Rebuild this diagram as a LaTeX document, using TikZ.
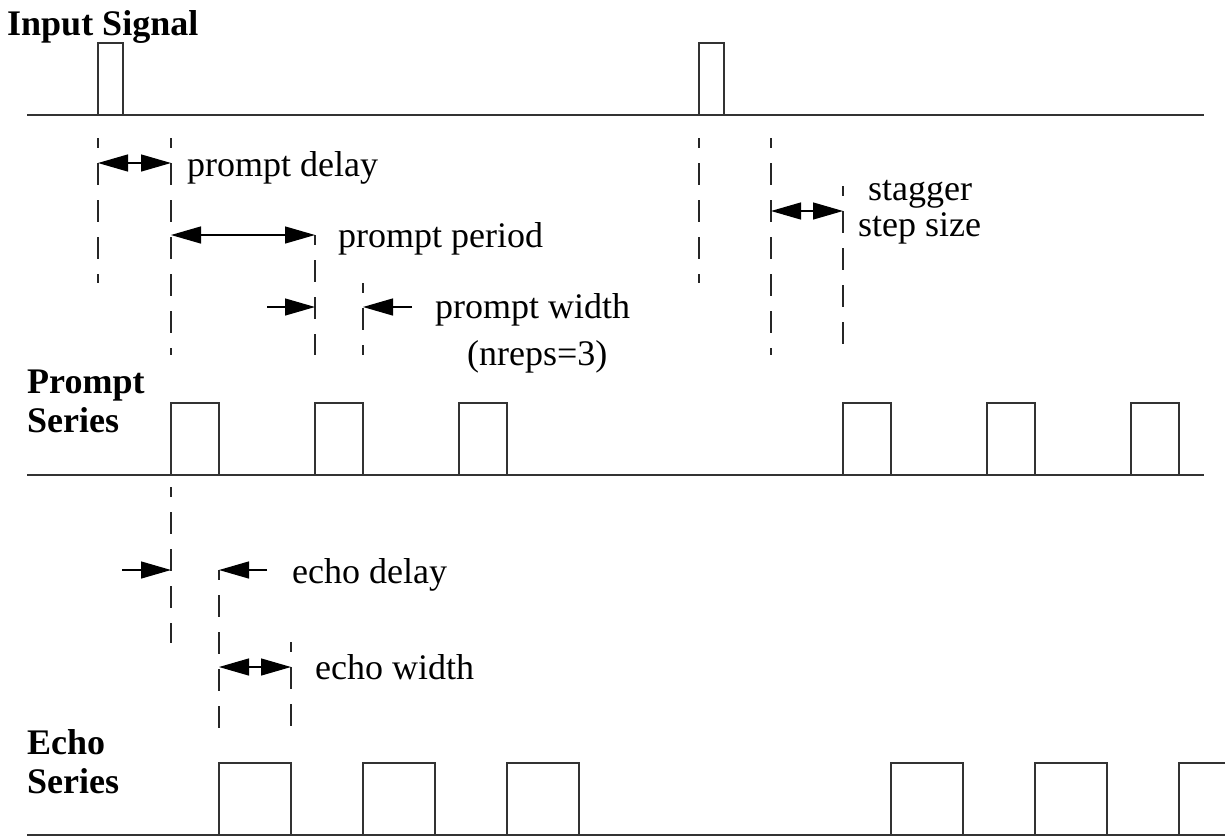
\documentclass[tikz,border=0pt]{standalone}
\usepackage{fontspec}
\setmainfont{Liberation Serif}
\usetikzlibrary{arrows.meta}
\tikzset{
  wave/.style={line width=1.8pt,black!80,line join=miter},
  guide/.style={line width=1.4pt,black!85,dash pattern=on 22pt off 15pt,dash phase=12pt},
  dimarrow/.style={line width=1.3pt,arrows={Triangle[length=30pt,width=17pt]-Triangle[length=30pt,width=17pt]}},
  onearrow/.style={line width=1.3pt,arrows={-Triangle[length=30pt,width=17pt]}},
  lbl/.style={anchor=base west,inner sep=0pt,font=\fontsize{36}{39}\selectfont},
  title/.style={anchor=base west,inner sep=0pt,align=left,font=\fontsize{36}{39}\selectfont\bfseries}
}
\begin{document}
\begin{tikzpicture}[x=1pt,y=-1pt]
\useasboundingbox (0,0) rectangle (1225,836);
\clip (0,0) rectangle (1225,836);

% titles
\node[title] (input) at (7,35) {Input Signal};
\node[title] (prompt) at (27,432) {Prompt\\Series};
\node[title] (echo) at (27,793) {Echo\\Series};

% signals
\draw[wave] (27,115) -- (1204,115);
\foreach \x in {98,699}
  \draw[wave] (\x,115) |- (\x+25,43) -- (\x+25,115);
\draw[wave] (27,475) -- (1204,475);
\foreach \x in {171,315,459,843,987,1131}
  \draw[wave] (\x,475) |- (\x+48,403) -- (\x+48,475);
\draw[wave] (27,835) -- (1230,835);
\foreach \x in {219,363,507,891,1035,1179}
  \draw[wave] (\x,835) |- (\x+72,763) -- (\x+72,835);

% guide lines
\draw[guide] (98,138) -- (98,283);
\draw[guide] (171,138) -- (171,355);
\draw[guide] (315,235) -- (315,355);
\draw[guide] (363,283) -- (363,355);
\draw[guide] (699,138) -- (699,283);
\draw[guide] (771,138) -- (771,355);
\draw[guide] (843,186) -- (843,355);
\draw[guide] (171,487) -- (171,643);
\draw[guide] (219,570) -- (219,738);
\draw[guide] (291,642) -- (291,738);

% dimension ends
\coordinate (pd1) at (98,163);
\coordinate (pd2) at (171,163);
\coordinate (pp1) at (171,235);
\coordinate (pp2) at (315,235);
\coordinate (pw0) at (267,307);
\coordinate (pw1) at (315,307);
\coordinate (pw2) at (363,307);
\coordinate (pw3) at (412,307);
\coordinate (ss1) at (771,211);
\coordinate (ss2) at (843,211);
\coordinate (ed0) at (122,570);
\coordinate (ed1) at (171,570);
\coordinate (ed2) at (219,570);
\coordinate (ed3) at (267,570);
\coordinate (ew1) at (219,667);
\coordinate (ew2) at (291,667);

\draw[dimarrow] (pd1) -- (pd2);
\draw[dimarrow] (pp1) -- (pp2);
\draw[onearrow] (pw0) -- (pw1);
\draw[onearrow] (pw3) -- (pw2);
\draw[dimarrow] (ss1) -- (ss2);
\draw[onearrow] (ed0) -- (ed1);
\draw[onearrow] (ed3) -- (ed2);
\draw[dimarrow] (ew1) -- (ew2);

% labels
\node[lbl] (pdelay) at (187,176) {prompt delay};
\node[lbl] (pperiod) at (338,247) {prompt period};
\node[lbl] (pwidth) at (435,318) {prompt width};
\node[lbl] (nreps) at (467,365) {(nreps=3)};
\node[lbl] (stag) at (868,200) {stagger};
\node[lbl] (step) at (858,236) {step size};
\node[lbl] (edelay) at (292,583) {echo delay};
\node[lbl] (ewidth) at (315,679) {echo width};
\end{tikzpicture}
\end{document}
